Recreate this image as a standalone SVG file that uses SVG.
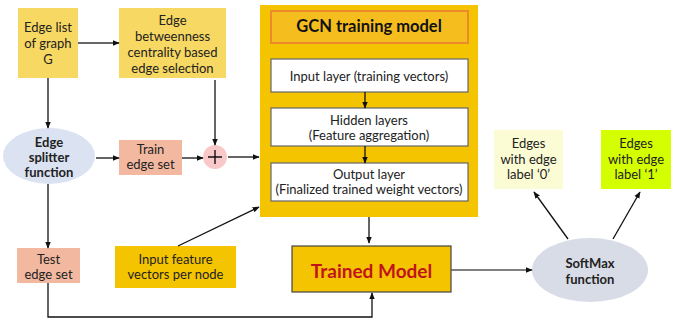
<svg xmlns="http://www.w3.org/2000/svg" width="683" height="322" viewBox="0 0 683 322">
<style>
text{font-family:Lato,"Open Sans","Liberation Sans",sans-serif;font-size:13px;fill:#222;text-anchor:middle;dominant-baseline:central}
.b{font-weight:bold}
.ly{fill:#f7d862}
.sal{fill:#f2b9a0}
.gold{fill:#f5c400}
.wb{fill:#fff;stroke:#666;stroke-width:1.2}
.c{fill:none;stroke:#111;stroke-width:1.3}
.g{stroke:#666;stroke-width:2}
</style>
<defs>
<marker id="a" viewBox="0 0 10 10" refX="9" refY="5" markerWidth="7" markerHeight="7" markerUnits="userSpaceOnUse" orient="auto"><path d="M0,1 L10,5 L0,9 z" fill="#111"/></marker>
</defs>
<rect width="683" height="322" fill="#fff"/>
<g id="gcn">
<rect x="260" y="5" width="218" height="212" class="gold"/>
<rect x="271" y="11" width="197" height="32" fill="#f5bd1e" stroke="#ea8a2c" stroke-width="2"/>
<text x="369" y="26" class="b" style="font-size:16.5px;fill:#111">GCN training model</text>
</g>
<g id="input-layer"><rect x="271" y="59" width="197" height="33" class="wb"/><text x="369" y="76">Input layer (training vectors)</text></g>
<g id="hidden"><rect x="271" y="108" width="197" height="38" class="wb"/><text x="369" y="120">Hidden layers</text><text x="369" y="135">(Feature aggregation)</text></g>
<g id="output-layer"><rect x="271" y="163" width="197" height="38" class="wb"/><text x="369" y="174">Output layer</text><text x="369" y="189">(Finalized trained weight vectors)</text></g>
<g id="edgelist"><rect x="18" y="8" width="60" height="70" class="ly"/><text x="48" y="27">Edge list</text><text x="48" y="43">of graph</text><text x="48" y="59">G</text></g>
<g id="betweenness"><rect x="119" y="8" width="107" height="70" class="ly"/><text x="172.5" y="20">Edge</text><text x="172.5" y="36">betweenness</text><text x="172.5" y="52">centrality based</text><text x="172.5" y="68">edge selection</text></g>
<g id="splitter"><ellipse cx="49" cy="156" rx="46" ry="28" fill="#dbe2f2"/><text x="49" y="142" class="b">Edge</text><text x="49" y="157" class="b">splitter</text><text x="49" y="172" class="b">function</text></g>
<g id="train"><rect x="119" y="140" width="63" height="35" class="sal"/><text x="150.5" y="149">Train</text><text x="150.5" y="164">edge set</text></g>
<g id="plus"><circle cx="215" cy="157" r="12" fill="#f9c8c8"/><path d="M208,157 H222 M215,150 V164" stroke="#111" stroke-width="1.4"/></g>
<g id="test"><rect x="17" y="248" width="63" height="35" class="sal"/><text x="48.5" y="259">Test</text><text x="48.5" y="274">edge set</text></g>
<g id="inputfeat"><rect x="115" y="246" width="121" height="42" class="gold"/><text x="175.5" y="259">Input feature</text><text x="175.5" y="274">vectors per node</text></g>
<g id="trained"><rect x="292" y="246" width="159" height="46" class="gold" stroke="#444" stroke-width="1.2"/><text x="371.5" y="270" class="b" style="font-size:19px;fill:#c0141c">Trained Model</text></g>
<g id="softmax"><ellipse cx="590" cy="270" rx="58" ry="32" fill="#d8dce6"/><text x="590" y="263" class="b">SoftMax</text><text x="590" y="279" class="b">function</text></g>
<g id="label0"><rect x="494" y="130" width="69" height="59" fill="#fbfbd4"/><text x="528.5" y="143">Edges</text><text x="528.5" y="159">with edge</text><text x="528.5" y="174">label ‘0’</text></g>
<g id="label1"><rect x="601" y="130" width="70" height="59" fill="#d4ff00"/><text x="636" y="143">Edges</text><text x="636" y="159">with edge</text><text x="636" y="174">label ‘1’</text></g>
<g id="connectors">
<path d="M78,43 H119" class="c g" marker-end="url(#a)"/>
<path d="M48,78 V128" class="c" marker-end="url(#a)"/>
<path d="M215,80 V145" class="c g" marker-end="url(#a)"/>
<path d="M96,158 H119" class="c" marker-end="url(#a)"/>
<path d="M182,158 H203" class="c" marker-end="url(#a)"/>
<path d="M228,157 H259" class="c" marker-end="url(#a)"/>
<path d="M48,184 V248" class="c" marker-end="url(#a)"/>
<path d="M178,246 L259,207" class="c" marker-end="url(#a)"/>
<path d="M365,92 V108" class="c" marker-end="url(#a)"/>
<path d="M365,146 V163" class="c" marker-end="url(#a)"/>
<path d="M369,217 V243" class="c" marker-end="url(#a)"/>
<path d="M48,283 V317 H372 V293" class="c" marker-end="url(#a)"/>
<path d="M451,270 H532" class="c" style="stroke:#555" marker-end="url(#a)"/>
<path d="M568,239 L534,192" class="c" marker-end="url(#a)"/>
<path d="M613,239 L640,192" class="c" marker-end="url(#a)"/>
</g>
</svg>
